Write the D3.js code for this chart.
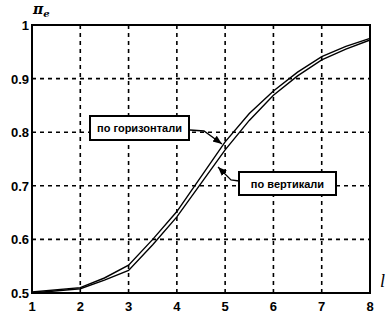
<!DOCTYPE html>
<html>
<head>
<meta charset="utf-8">
<script src="https://cdn.jsdelivr.net/npm/d3@7"></script>
<style>
  body { margin: 0; background: #fff; }
  svg { display: block; }
</style>
</head>
<body>
<svg></svg>
<script>
// data
var lx = [1, 2, 2.5, 3, 3.5, 4, 5, 5.5, 6, 6.5, 7, 7.5, 8];
var horiz = [0.502, 0.51, 0.528, 0.552, 0.600, 0.652, 0.782, 0.835, 0.877, 0.912, 0.941, 0.960, 0.975];
var vert  = [0.500, 0.508, 0.524, 0.542, 0.590, 0.642, 0.767, 0.822, 0.869, 0.905, 0.935, 0.955, 0.972];
var xTicks = [1, 2, 3, 4, 5, 6, 7, 8];
var yTicks = [0.5, 0.6, 0.7, 0.8, 0.9, 1];

var W = 390, H = 316;
var svg = d3.select('svg').attr('width', W).attr('height', H);

var x = d3.scaleLinear().domain([1, 8]).range([32, 370]);
var y = d3.scaleLinear().domain([0.5, 1]).range([293, 25]);

// grid
var g = svg.append('g');
g.selectAll('.vg').data(xTicks.slice(1, -1)).enter().append('line')
    .attr('x1', d => x(d)).attr('x2', d => x(d))
    .attr('y1', y(1)).attr('y2', y(0.5))
    .attr('stroke', '#000').attr('stroke-width', 1.6).attr('stroke-dasharray', '4,4');
g.selectAll('.hg').data(yTicks.slice(1, -1)).enter().append('line')
    .attr('x1', x(1)).attr('x2', x(8))
    .attr('y1', d => y(d)).attr('y2', d => y(d))
    .attr('stroke', '#000').attr('stroke-width', 1.6).attr('stroke-dasharray', '4,4');

// curves
var line = d3.line().x(d => x(d[0])).y(d => y(d[1]));
[horiz, vert].forEach(function(s) {
  svg.append('path')
    .datum(lx.map((v, i) => [v, s[i]]))
    .attr('d', line)
    .attr('fill', 'none').attr('stroke', '#000').attr('stroke-width', 1.4);
});

// frame
svg.append('rect')
    .attr('x', x(1)).attr('y', y(1))
    .attr('width', x(8) - x(1)).attr('height', y(0.5) - y(1))
    .attr('fill', 'none').attr('stroke', '#000').attr('stroke-width', 2);

// tick labels
svg.selectAll('.xl').data(xTicks).enter().append('text')
    .attr('x', d => x(d)).attr('y', 311)
    .attr('text-anchor', 'middle')
    .style('font', 'bold 13px "Liberation Sans", Arial, sans-serif')
    .text(d => d);
svg.selectAll('.yl').data(yTicks).enter().append('text')
    .attr('x', 29).attr('y', d => y(d) + 5)
    .attr('text-anchor', 'end')
    .style('font', 'bold 13px "Liberation Sans", Arial, sans-serif')
    .text(d => d);

// axis titles
var yt = svg.append('text').attr('x', 33).attr('y', 14)
    .style('font', 'italic bold 14px "DejaVu Serif", serif');
yt.append('tspan').text('π');
yt.append('tspan').attr('dy', 3).style('font-size', '10px').text('e');
svg.append('text').attr('x', 380).attr('y', 287)
    .style('font', 'italic 18px "Liberation Serif", serif').text('l');

// annotations
svg.append('defs').append('marker')
    .attr('id', 'ah').attr('viewBox', '0 0 10 10')
    .attr('refX', 10).attr('refY', 5)
    .attr('markerWidth', 7).attr('markerHeight', 7)
    .attr('orient', 'auto')
    .append('path').attr('d', 'M0,1 L10,5 L0,9 Z').attr('fill', '#000');

function note(bx, by, bw, bh, txt) {
  svg.append('rect').attr('x', bx).attr('y', by).attr('width', bw).attr('height', bh)
      .attr('fill', '#fff').attr('stroke', '#000').attr('stroke-width', 2);
  svg.append('text').attr('x', bx + bw / 2).attr('y', by + bh / 2 + 4)
      .attr('text-anchor', 'middle')
      .style('font', 'bold 11px "Liberation Sans", Arial, sans-serif')
      .text(txt);
}
svg.append('path').attr('d', 'M190,130 L204,131 L222,144')
    .attr('fill', 'none').attr('stroke', '#000').attr('stroke-width', 1.3)
    .attr('marker-end', 'url(#ah)');
svg.append('path').attr('d', 'M239,181 L231,180 L218,167')
    .attr('fill', 'none').attr('stroke', '#000').attr('stroke-width', 1.3)
    .attr('marker-end', 'url(#ah)');
note(90, 116, 99, 24, 'по горизонтали');
note(239, 172, 97, 23, 'по вертикали');
</script>
</body>
</html>
